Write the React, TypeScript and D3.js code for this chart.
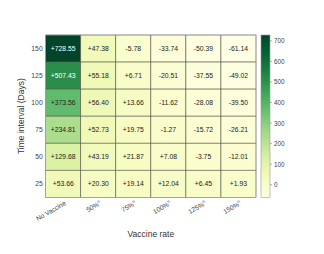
import React from "react";
import * as d3 from "d3";

const rowLabels = ["150", "125", "100", "75", "50", "25"];
const colLabels = ["No Vaccine", "50%", "75%", "100%", "125%", "150%"];
const row150 = [728.55, 47.38, -5.78, -33.74, -50.39, -61.14];
const row125 = [507.43, 55.18, 6.71, -20.51, -37.55, -49.02];
const row100 = [373.56, 56.4, 13.66, -11.62, -28.08, -39.5];
const row75 = [234.81, 52.73, 19.75, -1.27, -15.72, -26.21];
const row50 = [129.68, 43.19, 21.87, 7.08, -3.75, -12.01];
const row25 = [53.66, 20.3, 19.14, 12.04, 6.45, 1.93];
const values = [row150, row125, row100, row75, row50, row25];
const cbarTicks = [0, 100, 200, 300, 400, 500, 600, 700];

const W = 324, H = 254;
const left = 45.7, right = 256, top = 35, bottom = 197.3;
const font = "Liberation Sans, Arial, sans-serif";

export default function App() {
  const all = values.flat();
  const vmin = d3.min(all)!, vmax = d3.max(all)!;
  const x = d3.scaleBand<string>().domain(colLabels).range([left, right]);
  const y = d3.scaleBand<string>().domain(rowLabels).range([top, bottom]);
  const color = d3.scaleSequential(d3.interpolateYlGn).domain([vmin, vmax]);
  const cx0 = 261, cx1 = 270;
  const cy = d3.scaleLinear().domain([vmin, vmax]).range([bottom, top]);
  const stops = d3.range(0, 1.0001, 0.05);
  const fmt = (v: number) => (v >= 0 ? "+" : "") + v.toFixed(2);
  return (
    <svg width={W} height={H} style={{ position: "absolute", left: 0, top: 0, background: "#fff" }}>
      <defs>
        <linearGradient id="cb" x1="0" y1="1" x2="0" y2="0">
          {stops.map((t) => (
            <stop key={t} offset={t} stopColor={color(vmin + t * (vmax - vmin))} />
          ))}
        </linearGradient>
      </defs>
      {values.map((row, i) =>
        row.map((v, j) => (
          <g key={i + "-" + j}>
            <rect
              x={x(colLabels[j])}
              y={y(rowLabels[i])}
              width={x.bandwidth()}
              height={y.bandwidth()}
              fill={color(v)}
              stroke="#5a5a4a"
              strokeWidth={0.6}
            />
            <text
              x={x(colLabels[j])! + x.bandwidth() / 2}
              y={y(rowLabels[i])! + y.bandwidth() / 2}
              textAnchor="middle"
              dominantBaseline="central"
              fontFamily={font}
              fontSize={6.8}
              fill={v > 400 ? "#ffffff" : "#222"}
            >
              {fmt(v)}
            </text>
          </g>
        ))
      )}
      <rect x={left} y={top} width={right - left} height={bottom - top} fill="none" stroke="#aaa" strokeWidth={0.6} />
      {rowLabels.map((r) => (
        <text
          key={r}
          x={left - 3}
          y={y(r)! + y.bandwidth() / 2}
          textAnchor="end"
          dominantBaseline="central"
          fontFamily={font}
          fontSize={6.8}
          fill="#444"
        >
          {r}
        </text>
      ))}
      {colLabels.map((c, j) => {
        const px = x(c)! + x.bandwidth() / 2 + 2;
        const py = bottom + 5;
        return (
          <text
            key={c}
            transform={`translate(${px},${py}) rotate(-30)`}
            textAnchor="end"
            dominantBaseline="central"
            fontFamily={font}
            fontSize={6.6}
            fill="#444"
          >
            {j === 0 ? (
              c
            ) : (
              <>
                {c}
                <tspan fontSize={4.5} dy={-2}>
                  n
                </tspan>
              </>
            )}
          </text>
        );
      })}
      <text
        transform={`translate(21,${(top + bottom) / 2}) rotate(-90)`}
        textAnchor="middle"
        dominantBaseline="central"
        fontFamily={font}
        fontSize={8.5}
        fill="#333"
      >
        Time interval (Days)
      </text>
      <text
        x={(left + right) / 2}
        y={234}
        textAnchor="middle"
        dominantBaseline="central"
        fontFamily={font}
        fontSize={8.5}
        fill="#333"
      >
        Vaccine rate
      </text>
      <rect x={cx0} y={top} width={cx1 - cx0} height={bottom - top} fill="url(#cb)" stroke="#999" strokeWidth={0.6} />
      {cbarTicks.map((t) => (
        <g key={t}>
          <line x1={cx1} x2={cx1 + 2} y1={cy(t)} y2={cy(t)} stroke="#666" strokeWidth={0.5} />
          <text x={cx1 + 4} y={cy(t)} dominantBaseline="central" fontFamily={font} fontSize={6.3} fill="#444">
            {t}
          </text>
        </g>
      ))}
    </svg>
  );
}
